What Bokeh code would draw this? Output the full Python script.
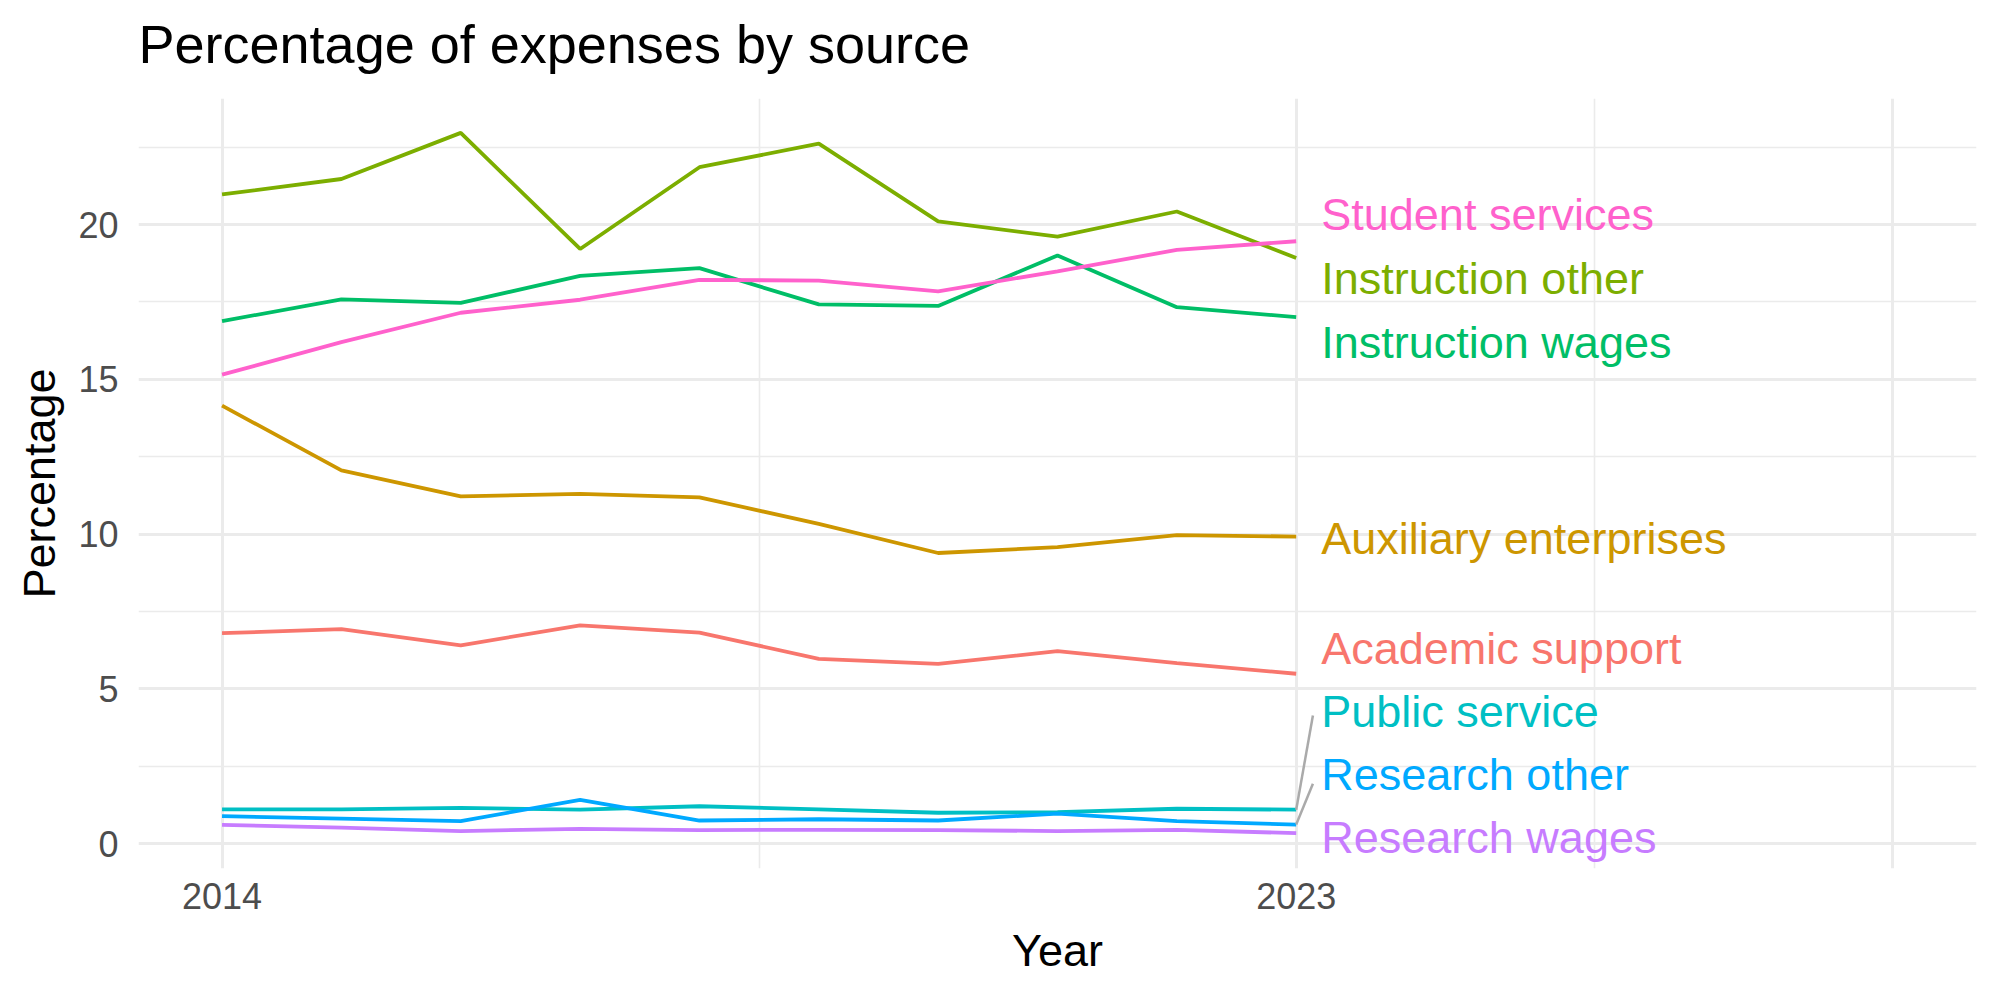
from bokeh.plotting import figure
from bokeh.models import FixedTicker, Range1d, Title
from bokeh.core.properties import value
from bokeh.embed import file_html
from bokeh.resources import INLINE

# Share of total expenses (%) per spending category, 2014-2023
years = list(range(2014, 2024))

academic_support = [6.80, 6.93, 6.41, 7.05, 6.82, 5.97, 5.81, 6.22, 5.83, 5.49]
auxiliary_enterprises = [14.15, 12.06, 11.22, 11.30, 11.19, 10.33, 9.39, 9.58, 9.97, 9.92]
instruction_other = [20.97, 21.47, 22.96, 19.21, 21.85, 22.61, 20.10, 19.61, 20.42, 18.92]
instruction_wages = [16.88, 17.58, 17.47, 18.34, 18.59, 17.42, 17.37, 19.00, 17.33, 17.01]
public_service = [1.11, 1.11, 1.16, 1.10, 1.21, 1.11, 1.00, 1.02, 1.13, 1.10]
research_other = [0.89, 0.81, 0.73, 1.42, 0.75, 0.79, 0.75, 0.97, 0.73, 0.62]
research_wages = [0.61, 0.52, 0.41, 0.48, 0.44, 0.45, 0.44, 0.41, 0.45, 0.34]
student_services = [15.15, 16.20, 17.15, 17.57, 18.21, 18.19, 17.84, 18.49, 19.18, 19.46]

series_names = ["Academic support", "Auxiliary enterprises", "Instruction other",
                "Instruction wages", "Public service", "Research other",
                "Research wages", "Student services"]
series_values = [academic_support, auxiliary_enterprises, instruction_other,
                 instruction_wages, public_service, research_other,
                 research_wages, student_services]
series_colors = ["#F8766D", "#CD9600", "#7CAE00", "#00BE67",
                 "#00BFC4", "#00A9FF", "#C77CFF", "#FF61CC"]

# Repelled end-of-line label positions (y in percent)
label_y = [6.31, 9.86, 18.25, 16.19, 4.26, 2.25, 0.20, 20.32]
label_x = 2023.21

# Leader lines for labels pushed away from their line ends
leader_series = [4, 5]
leader_end_x = 2023.14
leader_end_y = [4.14, 1.94]

x_ticks = [2014, 2023, 2028]
x_minor = [2018.5, 2025.5]
y_ticks = [0, 5, 10, 15, 20]
y_minor = [2.5, 7.5, 12.5, 17.5, 22.5]

FONT = "Liberation Sans"

p = figure(width=2000, height=1000, output_backend="svg", toolbar_location=None,
           x_range=Range1d(2013.3, 2028.7), y_range=Range1d(-0.8, 24.07),
           min_border_left=138, min_border_right=24, min_border_top=98,
           min_border_bottom=132, background_fill_color="white",
           border_fill_color="white")
p.outline_line_color = None

p.title.text = "Percentage of expenses by source"
p.title.text_font = FONT
p.title.text_font_size = "54px"
p.title.text_font_style = "normal"
p.title.text_color = "black"
p.title.align = "left"
p.title.standoff = 0

# blank spacer between the title and the panel
p.add_layout(Title(text=" ", text_font_size="1px", standoff=22), "above")

p.xaxis.ticker = FixedTicker(ticks=x_ticks, minor_ticks=x_minor)
p.yaxis.ticker = FixedTicker(ticks=y_ticks, minor_ticks=y_minor)
p.xaxis.major_label_overrides = {2014: "2014", 2023: "2023", 2028: ""}

for ax in (p.xaxis, p.yaxis):
    ax.axis_line_color = None
    ax.major_tick_line_color = None
    ax.minor_tick_line_color = None
    ax.major_tick_out = 0
    ax.major_tick_in = 0
    ax.minor_tick_out = 0
    ax.minor_tick_in = 0
    ax.major_label_text_font = FONT
    ax.major_label_text_font_size = "36px"
    ax.major_label_text_color = "#4D4D4D"
    ax.axis_label_text_font = FONT
    ax.axis_label_text_font_size = "45px"
    ax.axis_label_text_font_style = "normal"
    ax.axis_label_text_color = "black"

p.xaxis.axis_label = "Year"
p.yaxis.axis_label = "Percentage"
p.xaxis.major_label_standoff = 14
p.yaxis.major_label_standoff = 20
p.xaxis.axis_label_standoff = 13
p.yaxis.axis_label_standoff = 10

for g in (p.xgrid, p.ygrid):
    g.grid_line_color = "#EBEBEB"
    g.grid_line_width = 3
    g.minor_grid_line_color = "#EBEBEB"
    g.minor_grid_line_width = 1.6

for vals, col in zip(series_values, series_colors):
    p.line(years, vals, line_color=col, line_width=3.8)

p.segment(x0=[years[-1]] * len(leader_series),
          y0=[series_values[i][-1] for i in leader_series],
          x1=[leader_end_x] * len(leader_series),
          y1=leader_end_y, line_color="#AAAAAA", line_width=2.5)

p.text(x=[label_x] * len(series_names), y=label_y, text=series_names,
       text_color=series_colors, text_font=value(FONT), text_font_size="45px",
       text_baseline="middle", text_align="left")

open("out.html", "w").write(file_html(p, INLINE))
